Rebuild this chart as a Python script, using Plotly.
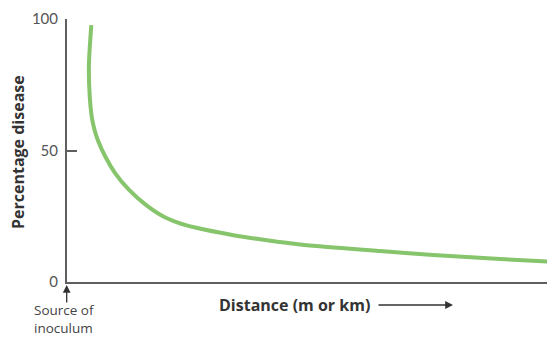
import plotly.graph_objects as go

# Distance (arbitrary units, 0 = source of inoculum) and percentage disease
distance = [4.98, 4.49, 4.61, 5.08, 5.59, 6.31, 7.84, 9.89, 12.62, 16.04, 19.46, 22.85, 26.27,
            34.12, 40.96, 47.78, 64.16, 75.02, 88.74, 100.0]
disease = [97.7, 82.5, 72.2, 62.7, 58.2, 54.0, 47.7, 41.3, 35.2, 29.5, 25.2, 22.5, 20.7,
           17.8, 15.9, 14.3, 11.8, 10.3, 8.75, 7.6]

y_ticks = [0, 50, 100]
y_tick_labels = ["0", "50", "100"]

FONT = "Open Sans"
TICKFONT = "Lato"
AXIS = "#5f5f5f"

OFF = 8  # page body margin
W, H = 547, 330
l, r, t, b = 59, 0, 11, 56
pw, ph = W - l - r, H - t - b

def px(xs):
    return (xs - OFF - l) / pw

def py(ys):
    return (H - b - (ys - OFF)) / ph

fig = go.Figure()
fig.add_trace(go.Scatter(
    x=distance, y=disease, mode="lines",
    line=dict(color="#86c56b", width=4, shape="spline", smoothing=0.8),
    hoverinfo="skip", showlegend=False,
))

fig.update_layout(
    width=W, height=H,
    margin=dict(l=l, r=r, t=t, b=b),
    paper_bgcolor="white", plot_bgcolor="white",
    xaxis=dict(range=[0, 100], showline=True, linecolor=AXIS, linewidth=2,
               showgrid=False, zeroline=False, showticklabels=False, ticks=""),
    yaxis=dict(range=[0, 100], showline=True, linecolor=AXIS, linewidth=2,
               showgrid=False, zeroline=False, tickvals=y_ticks, ticktext=y_tick_labels,
               ticks="inside", ticklen=10, tickwidth=2, tickcolor=AXIS,
               ticklabelstandoff=4,
               tickfont=dict(family=TICKFONT, size=15, color="#555555")),
)

fig.add_annotation(text="<b>Percentage disease</b>", textangle=-90,
                   x=px(18), y=py(152), xref="paper", yref="paper",
                   xanchor="center", yanchor="middle", showarrow=False,
                   font=dict(family=FONT, size=16, color="#333333"))
fig.add_annotation(text="<b>Distance (m or km)</b>",
                   x=px(217), y=py(305), xref="paper", yref="paper",
                   xanchor="left", yanchor="middle", showarrow=False,
                   font=dict(family=FONT, size=16, color="#333333"))
fig.add_annotation(text="Source of<br>inoculum",
                   x=px(33), y=py(337.5), xref="paper", yref="paper",
                   xanchor="left", yanchor="bottom", align="left", showarrow=False,
                   borderpad=0,
                   font=dict(family=FONT, size=13.5, color="#444444"))

# distance arrow
fig.add_annotation(x=px(453), y=py(305), xref="paper", yref="paper",
                   ax=-76, ay=0, axref="pixel", ayref="pixel",
                   showarrow=True, arrowhead=2, arrowsize=1.2, arrowwidth=1.3,
                   arrowcolor="#333333", text="")
# source arrow
fig.add_annotation(x=px(66.7), y=py(285), xref="paper", yref="paper",
                   ax=0, ay=19, axref="pixel", ayref="pixel",
                   showarrow=True, arrowhead=2, arrowsize=1.2, arrowwidth=1.3,
                   arrowcolor="#333333", text="")

fig.write_html("out.html")
